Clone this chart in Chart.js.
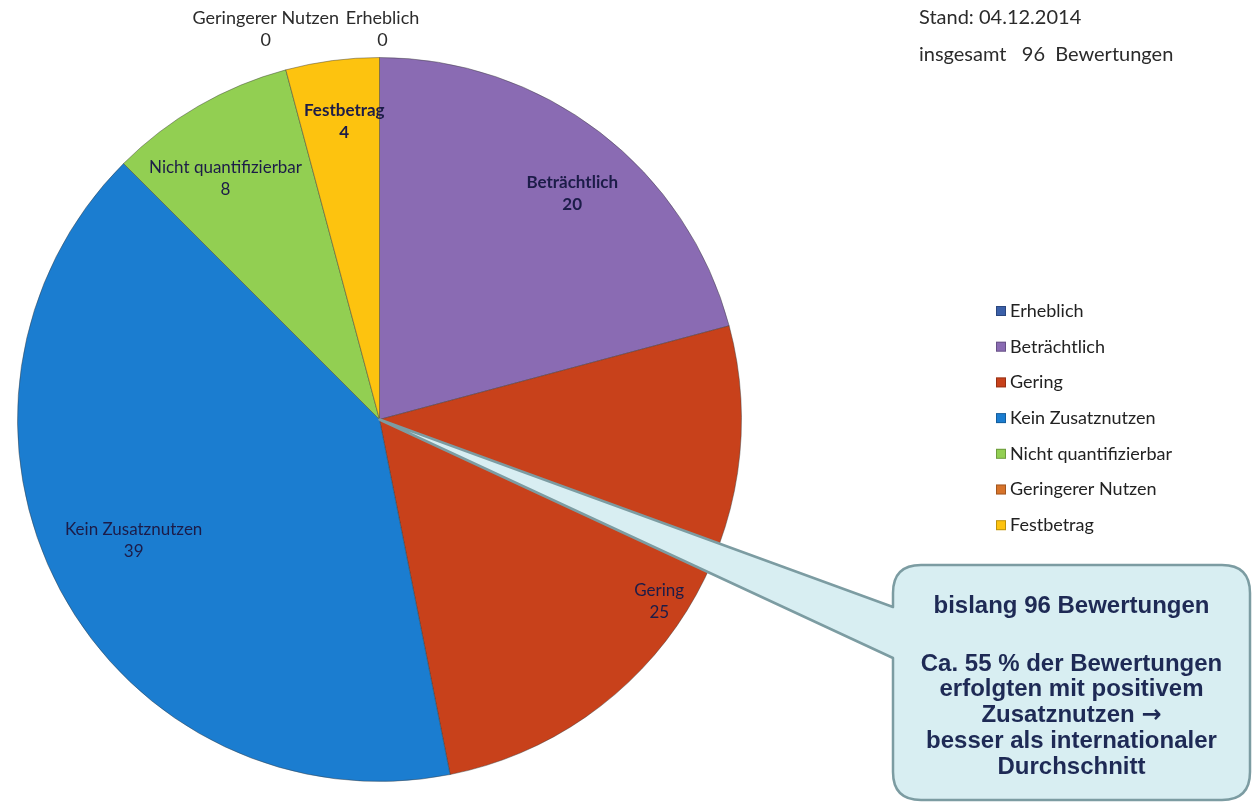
<!DOCTYPE html>
<html>
<head>
<meta charset="utf-8">
<script src="https://cdn.jsdelivr.net/npm/chart.js@4"></script>
<style>
  html, body { margin: 0; padding: 0; background: #fff; }
  #wrap { width: 1259px; height: 806px; position: relative; }
</style>
</head>
<body>
<div id="wrap"><canvas id="myChart" width="1259" height="806"></canvas></div>
<script>
// Daten
const kategorien = ['Erheblich', 'Beträchtlich', 'Gering', 'Kein Zusatznutzen', 'Nicht quantifizierbar', 'Geringerer Nutzen', 'Festbetrag'];
const bewertungen = [0, 20, 25, 39, 8, 0, 4];
const standText = 'Stand: 04.12.2014';
const gesamtText = 'insgesamt   96  Bewertungen';
const boxZeilen = ['bislang 96 Bewertungen', '', 'Ca. 55 % der Bewertungen', 'erfolgten mit positivem', 'Zusatznutzen', 'besser als internationaler', 'Durchschnitt'];

const farben = ['#3a5fa8', '#8a6bb3', '#c8411b', '#1b7dd0', '#92cf52', '#d7732a', '#fdc30f'];
// wie weit die Beschriftung vom Mittelpunkt weg ist (Anteil am Radius) + kleine Verschiebung
const labelRadius = [1.0, 0.82, 0.91, 0.77, 0.79, 1.0, 0.83];
const labelShiftX = [3, 12, 0, 0, -11, -20, 4];
const labelShiftY = [0, 10, 8, -10, 7, 0, 0];

const beschriftung = {
  id: 'beschriftung',
  afterDatasetsDraw(chart) {
    const ctx = chart.ctx;
    const meta = chart.getDatasetMeta(0);
    ctx.save();
    ctx.textAlign = 'center';
    ctx.textBaseline = 'middle';
    meta.data.forEach((arc, i) => {
      const p = arc.getProps(['x', 'y', 'startAngle', 'endAngle', 'outerRadius'], true);
      const mid = (p.startAngle + p.endAngle) / 2;
      let x, y;
      if (bewertungen[i] === 0) {
        x = p.x + Math.cos(mid) * p.outerRadius + labelShiftX[i];
        y = p.y - p.outerRadius - 28;
        ctx.fillStyle = '#2b2b2b';
        ctx.font = '18px Lato';
      } else {
        const d = p.outerRadius * labelRadius[i];
        x = p.x + Math.cos(mid) * d + labelShiftX[i];
        y = p.y + Math.sin(mid) * d + labelShiftY[i];
        ctx.fillStyle = '#1c1c48';
        ctx.font = (i === 6 || i === 1 ? 'bold ' : '') + '17px Lato';
      }
      ctx.fillText(kategorien[i], x, y - 11);
      ctx.fillText(String(bewertungen[i]), x, y + 11);
    });
    ctx.restore();
  },
  afterDraw(chart) {
    const ctx = chart.ctx;
    const arc = chart.getDatasetMeta(0).data[0];
    ctx.save();

    // Kopf rechts oben
    ctx.fillStyle = '#2b2b2b';
    ctx.font = '20px Lato';
    ctx.textAlign = 'left';
    ctx.textBaseline = 'middle';
    ctx.fillText(standText, 919, 18);
    ctx.fillText(gesamtText, 919, 55);

    // Legende
    ctx.font = '18px Lato';
    kategorien.forEach((k, i) => {
      const y = 311 + i * 35.7;
      ctx.fillStyle = farben[i];
      ctx.fillRect(996, y - 5, 10, 10);
      ctx.strokeStyle = 'rgba(0,0,0,0.25)';
      ctx.lineWidth = 1;
      ctx.strokeRect(996.5, y - 4.5, 9, 9);
      ctx.fillStyle = '#222';
      ctx.fillText(k, 1010, y);
    });

    // Sprechblase
    const bx = 893, by = 565, bw = 357, bh = 235, r = 28;
    const tipX = arc.x, tipY = arc.y;
    ctx.beginPath();
    ctx.moveTo(bx + r, by);
    ctx.lineTo(bx + bw - r, by);
    ctx.quadraticCurveTo(bx + bw, by, bx + bw, by + r);
    ctx.lineTo(bx + bw, by + bh - r);
    ctx.quadraticCurveTo(bx + bw, by + bh, bx + bw - r, by + bh);
    ctx.lineTo(bx + r, by + bh);
    ctx.quadraticCurveTo(bx, by + bh, bx, by + bh - r);
    ctx.lineTo(bx, 658);
    ctx.lineTo(tipX, tipY);
    ctx.lineTo(bx, 607);
    ctx.lineTo(bx, by + r);
    ctx.quadraticCurveTo(bx, by, bx + r, by);
    ctx.closePath();
    ctx.fillStyle = '#d8eef2';
    ctx.fill();
    ctx.strokeStyle = '#7c9ca2';
    ctx.lineWidth = 2.5;
    ctx.lineJoin = 'round';
    ctx.stroke();

    ctx.fillStyle = '#1e2a55';
    ctx.textAlign = 'center';
    const boxFont = 'bold 24px "Liberation Sans", Arial';
    ctx.font = boxFont;
    const cx = bx + bw / 2;
    ctx.fillText(boxZeilen[0], cx, 606);
    for (let i = 2; i < boxZeilen.length; i++) {
      const yy = 664 + (i - 2) * 25.8;
      if (i === 4) {
        // Zeile mit Pfeil
        const w1 = ctx.measureText(boxZeilen[i] + ' ').width;
        ctx.font = 'bold 24px "DejaVu Sans"';
        const w2 = ctx.measureText('\u2192').width;
        const x0 = cx - (w1 + w2) / 2;
        ctx.textAlign = 'left';
        ctx.fillText('\u2192', x0 + w1, yy);
        ctx.font = boxFont;
        ctx.fillText(boxZeilen[i] + ' ', x0, yy);
        ctx.textAlign = 'center';
      } else {
        ctx.fillText(boxZeilen[i], cx, yy);
      }
    }
    ctx.restore();
  }
};

const contenedor = document.getElementById('myChart').getContext('2d');
window.miTorta = new Chart(contenedor, {
  type: 'pie',
  data: {
    labels: kategorien,
    datasets: [{
      data: bewertungen,
      backgroundColor: farben,
      borderColor: 'rgba(60,60,60,0.45)',
      borderWidth: 1
    }]
  },
  options: {
    responsive: false,
    animation: false,
    layout: { padding: { left: 17, top: 57, right: 517, bottom: 24 } },
    plugins: {
      legend: { display: false },
      tooltip: { enabled: false }
    }
  },
  plugins: [beschriftung]
});
</script>
</body>
</html>
